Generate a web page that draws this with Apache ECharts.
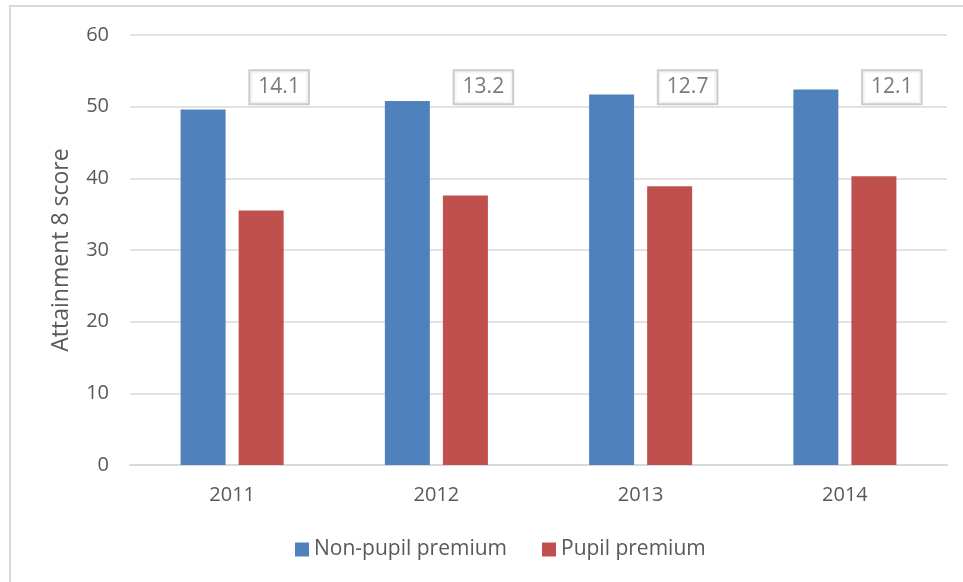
<!DOCTYPE html>
<html>
<head>
<meta charset="utf-8">
<script src="https://cdn.jsdelivr.net/npm/echarts@6/dist/echarts.min.js"></script>
<style>
    html, body { margin: 0; padding: 0; background: #fff; }
    #chart { width: 963px; height: 582px; }
</style>
</head>
<body>
<div id="chart"></div>
<script>
// values
const years = ['2011', '2012', '2013', '2014'];
const nonPupilPremium = [49.6, 50.8, 51.7, 52.4];
const pupilPremium = [35.5, 37.6, 38.9, 40.3];
const gapLabels = ['14.1', '13.2', '12.7', '12.1'];
const yTicks = [0, 10, 20, 30, 40, 50, 60];

const FONT = '"Open Sans", "Noto Sans", sans-serif';
const TXT = '#595959';
const labelY = 52.7;

const chart = echarts.init(document.getElementById('chart'));
chart.setOption({
    animation: false,
    textStyle: { fontFamily: FONT },
    graphic: [{
        type: 'rect',
        shape: { x: 10, y: 6, width: 970, height: 600 },
        style: { fill: 'none', stroke: '#d9d9d9', lineWidth: 2 },
        silent: true
    }],
    grid: { left: 130, right: 16, top: 35, bottom: 117 },
    legend: {
        top: 539,
        left: 295,
        padding: 0,
        itemWidth: 14,
        itemHeight: 14,
        itemGap: 35,
        icon: 'rect',
        textStyle: { color: TXT, fontSize: 21, fontFamily: FONT },
        data: ['Non-pupil premium', 'Pupil premium']
    },
    xAxis: {
        type: 'category',
        data: years,
        axisLine: { lineStyle: { color: '#d9d9d9', width: 2 } },
        axisTick: { show: false },
        axisLabel: { color: TXT, fontSize: 20, margin: 20, fontFamily: FONT }
    },
    yAxis: {
        type: 'value',
        min: yTicks[0],
        max: yTicks[yTicks.length - 1],
        interval: 10,
        name: 'Attainment 8 score',
        nameLocation: 'middle',
        nameGap: 57,
        nameTextStyle: { color: TXT, fontSize: 23, fontFamily: FONT },
        axisLine: { show: false },
        axisTick: { show: false },
        axisLabel: { color: TXT, fontSize: 20, margin: 21, fontFamily: FONT },
        splitLine: { lineStyle: { color: '#d9d9d9', width: 1.5 } }
    },
    series: [
        {
            name: 'Non-pupil premium',
            type: 'bar',
            data: nonPupilPremium,
            barWidth: 45,
            barGap: '29%',
            itemStyle: { color: '#4f81bd' }
        },
        {
            name: 'Pupil premium',
            type: 'bar',
            data: pupilPremium,
            barWidth: 45,
            itemStyle: { color: '#c0504d' }
        },
        {
            name: 'gap',
            type: 'scatter',
            symbolSize: 0,
            silent: true,
            data: years.map((y, i) => [y, labelY]),
            label: {
                show: true,
                position: 'inside',
                offset: [47, 0],
                formatter: p => gapLabels[p.dataIndex],
                color: TXT,
                fontSize: 21,
                fontFamily: FONT,
                backgroundColor: '#fff',
                borderColor: '#bfbfbf',
                borderWidth: 2,
                padding: [6, 8, 5, 8]
            }
        }
    ]
});
</script>
</body>
</html>
